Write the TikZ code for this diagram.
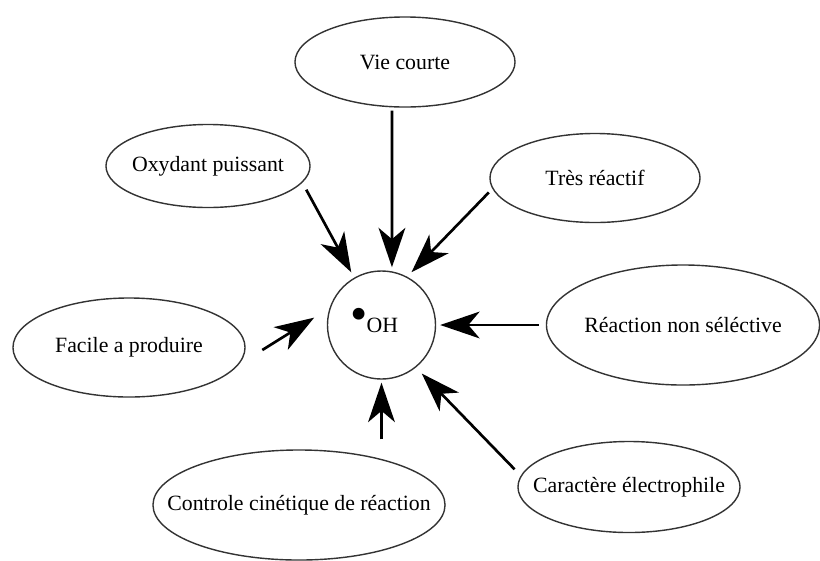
\documentclass[tikz,border=0pt]{standalone}
\usepackage{fontspec}
\setmainfont{Liberation Serif}
\usetikzlibrary{shapes.geometric, arrows.meta}
\newcommand{\lbl}[1]{\makebox[0pt]{#1}}

\begin{document}
\begin{tikzpicture}[x=0.025cm, y=-0.025cm, font=\fontsize{15.5}{18}\selectfont,
  prop/.style={draw=black!80, line width=1pt, ellipse, inner sep=0pt},
  arr/.style={-{Stealth[length=28pt, width=19pt, inset=8pt]}, line width=1.9pt}]
\useasboundingbox (0,0) rectangle (820,560);
% the radical in the middle
\node[draw=black!80, line width=1pt, circle, minimum size=2.7cm, inner sep=0pt] (oh) at (381.5,325) {\lbl{\kern-10pt\raisebox{1pt}[0pt][0pt]{\fontsize{35}{35}\selectfont\textbullet}\kern-1pt OH}};
% properties round it
\node[prop, minimum width=5.5cm, minimum height=2.25cm] (vie) at (405,62) {\lbl{Vie courte}};
\node[prop, minimum width=5.1cm, minimum height=2.075cm] (oxy) at (208,166) {\lbl{Oxydant puissant}};
\node[prop, minimum width=5.25cm, minimum height=2.225cm] (tres) at (595,178) {\lbl{Très réactif}};
\node[prop, minimum width=5.8cm, minimum height=2.475cm] (fac) at (129,347.5) {\lbl{Facile a produire}};
\node[prop, minimum width=6.825cm, minimum height=3cm] (rea) at (683,325) {\lbl{Réaction non séléctive}};
\node[prop, minimum width=7.3cm, minimum height=2.75cm] (con) at (299,505) {\lbl{Controle cinétique de réaction}};
\node[prop, minimum width=5.55cm, minimum height=2.275cm] (car) at (629,487) {\lbl{Caractère électrophile}};
% arrows towards OH
\draw[arr, shorten <=0.08cm, shorten >=0.1cm] (vie.-106) -- (oh.79);
\draw[arr, shorten <=0.2cm, shorten >=0.15cm] (oxy.-10) -- (oh.120);
\draw[arr, shorten <=0.125cm, shorten >=0.155cm] (tres.186) -- (oh.62);
\draw[arr, shorten <=0.7cm, shorten >=0.45cm] (fac.-9) -- (oh.162);
\draw[arr, shorten <=0.175cm, shorten >=0.1cm] (rea.west) -- (oh.east);
\draw[arr, shorten <=0.25cm, shorten >=0.075cm] (oh.south |- con.north) -- (oh.south);
\draw[arr, shorten <=0.22cm, shorten >=0.21cm] (car.174) -- (oh.-51);
\end{tikzpicture}
\end{document}
